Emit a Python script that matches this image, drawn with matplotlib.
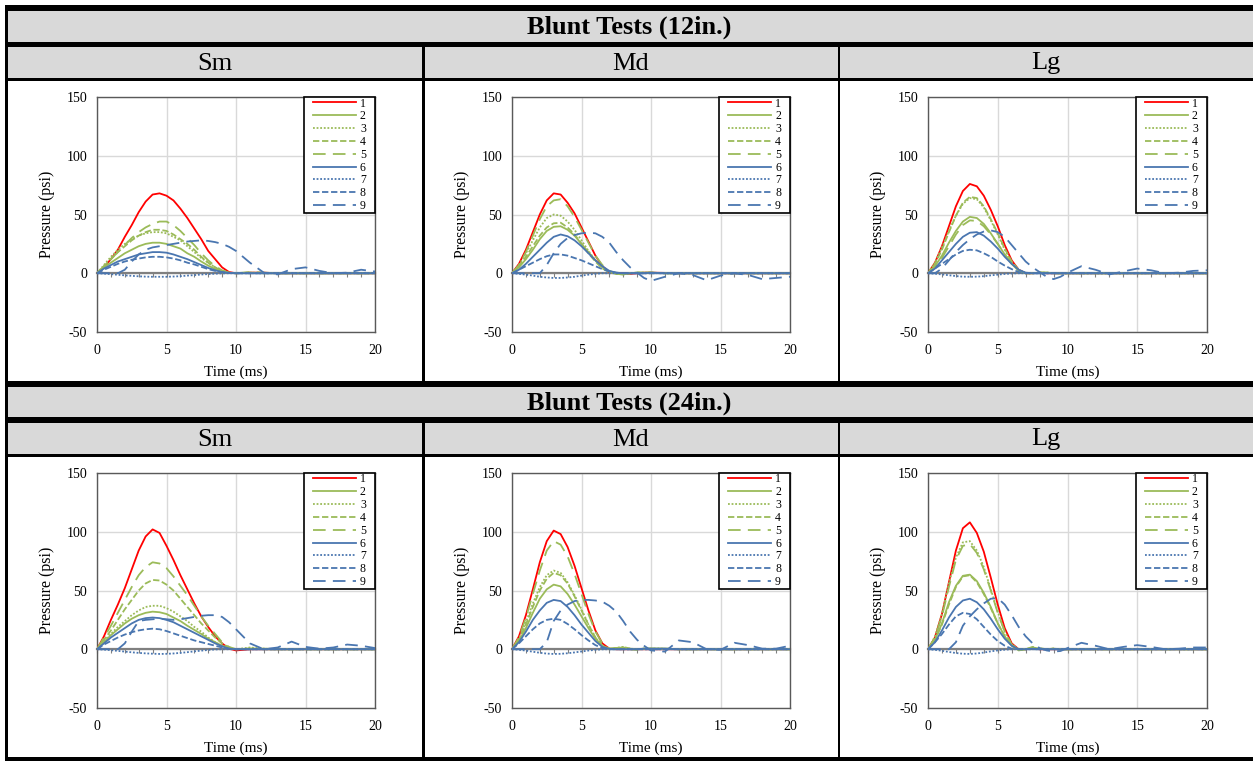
import matplotlib
matplotlib.use('Agg')
import matplotlib.pyplot as plt
from matplotlib.patches import Rectangle
from matplotlib.ticker import MultipleLocator

plt.rcParams['font.family'] = ['Liberation Serif', 'DejaVu Serif']
plt.rcParams['axes.unicode_minus'] = False

# ---------------- data ----------------
ROW_TITLES = ['Blunt Tests (12in.)', 'Blunt Tests (24in.)']
COL_TITLES = ['Sm', 'Md', 'Lg']
SERIES_LABELS = ['1', '2', '3', '4', '5', '6', '7', '8', '9']
X_LABEL = 'Time (ms)'
Y_LABEL = 'Pressure (psi)'

TIME = [0, 0.5, 1, 1.5, 2, 2.5, 3, 3.5, 4, 4.5, 5, 5.5, 6, 6.5, 7, 7.5, 8, 8.5, 9, 9.5, 10,
        11, 12, 13, 14, 15, 16, 17, 18, 19, 20]

SM_12 = [
    [0, 5, 12, 20, 31, 41, 52, 61, 67, 68, 66, 62, 55, 47, 38, 29, 19, 12, 5, 1, 0, 0.5, 0.5, 0, 0, 0, 0, 0, 0, 0, 0],
    [0, 5, 9, 13, 17, 20, 23, 25, 26, 26, 25, 23, 21, 17, 14, 10, 6.5, 3.6, 1.3, 0.3, 0, 0.3, 0, 0, 0, 0, 0, 0, 0, 0, 0],
    [0, 7, 14, 20, 25, 29, 32, 34, 35, 35, 34, 31, 28, 23, 18, 13, 9, 5, 2, 0.5, 0, 0.5, 0.3, 0, 0, 0, 0, 0, 0, 0, 0],
    [0, 6, 12, 18, 23, 28, 32, 35, 37, 37, 36, 33, 29, 25, 20, 14, 9, 5, 2, 0.5, 0, 0.5, 0.3, 0, 0, 0, 0, 0, 0, 0, 0],
    [0, 6, 12, 18, 24, 30, 35, 39, 42, 44, 44, 41, 36, 30, 24, 17, 11, 6, 2.5, 0.5, 0, 1, 0.5, 0, 0, 0, 0, 0, 0, 0, 0],
    [0, 4, 7, 10, 12, 14, 16, 17, 18, 18, 17.5, 16, 14, 12, 9.5, 7, 4.5, 2.5, 1, 0.3, 0, 0, 0, 0, 0, 0, 0, 0, 0, 0, 0],
    [0, -0.3, -0.8, -1.3, -1.8, -2.2, -2.6, -2.9, -3, -3, -3, -2.8, -2.5, -2, -1.6, -1.1, -0.7, -0.4, -0.1, 0, 0, 0, 0, 0, 0, 0, 0, 0, 0, 0, 0],
    [0, 3, 5.5, 8, 10, 11.5, 12.5, 13.5, 14, 14, 13.5, 12.5, 11, 9, 7.5, 5.5, 3.5, 2, 1, 0.3, 0, 0, 0, 0, 0, 0, 0, 0, 0, 0, 0],
    [0, 0, 0, 0, 3, 10, 16, 20, 22, 23, 24, 25, 26, 27, 27.5, 28, 27.5, 26.5, 25, 22.5, 19, 9, 0.5, -1, 3.5, 5, 2, 0, 0.5, 3, 1.5],
]

MD_12 = [
    [0, 8, 20, 35, 50, 62, 68, 67, 60, 51, 39, 27, 15, 6, 1, 0, 0, -0.5, 0, 0.5, 0.5, 0.3, 0, 0, 0, 0, 0, 0, 0, 0, 0],
    [0, 5, 12, 20, 29, 36, 39.5, 40, 37, 32, 25, 18, 11, 5, 1.5, -0.5, -1, 0, 0.5, 0.5, 0.5, 0, 0, 0, 0, 0, 0, 0, 0, 0, 0],
    [0, 7, 17, 28, 39, 47, 50, 49, 44, 37, 28, 19, 11, 5, 1, 0, -0.5, 0, 0.5, 0.5, 0.5, 0, 0, 0, 0, 0, 0, 0, 0, 0, 0],
    [0, 6, 14, 23, 32, 39, 42.5, 43, 39, 33, 25, 17, 10, 4, 1, -0.5, -1, 0, 0.5, 0.5, 0.5, 0, 0, 0, 0, 0, 0, 0, 0, 0, 0],
    [0, 7, 18, 32, 46, 57, 62, 63, 57, 48, 37, 26, 15, 7, 2, 0, -1, 0, 0.5, 0.5, 0.5, 0, 0, 0, 0, 0, 0, 0, 0, 0, 0],
    [0, 3, 8, 14, 20, 26, 31, 33, 31.5, 28, 23, 17, 11, 6, 2, 0.5, 0, 0, 0, 0, 0.5, 0, 0, 0, 0, 0, 0, 0, 0, 0, 0],
    [0, -0.5, -1.2, -2, -3, -3.6, -4, -4, -3.6, -3, -2, -1.2, -0.5, 0, 0, 0, 0, 0, 0, 0, 0, 0, 0, 0, 0, 0, 0, 0, 0, 0, 0],
    [0, 3, 6, 9, 12, 14.5, 16, 16, 15, 13, 11, 8.5, 6, 3.5, 1.5, 0.5, 0, 0, 0, 0, 0, 0, 0, 0, 0, 0, 0, 0, 0, 0, 0],
    [0, 0, 0, 0, 0, 7, 17, 25, 30, 32.5, 34, 34.5, 34, 31, 26, 18, 11, 5, 0.5, -4, -6.5, -3, 0, -1.5, -6, -2, 0, -1.5, -5, -4, -3],
]

LG_12 = [
    [0, 9, 23, 40, 57, 70, 76, 74, 66, 54, 40, 24, 11, 3, 0, 0, 0.5, 0, 0, 0, 0, 0, 0, 0, 0, 0, 0, 0, 0, 0, 0],
    [0, 6, 15, 26, 36, 44, 48, 47, 42, 34, 25, 16, 8, 2, 0, 0, 0.5, 0.5, 0, 0, 0, 0, 0, 0, 0, 0, 0, 0, 0, 0, 0],
    [0, 9, 22, 36, 49, 59, 64, 63, 56, 45, 33, 20, 9, 2.5, 0, 0, 0.5, 0.5, 0, 0, 0, 0, 0, 0, 0, 0, 0, 0, 0, 0, 0],
    [0, 8, 20, 35, 49, 60, 65, 64, 57, 46, 34, 21, 10, 3, 0, 0, 0.5, 0.5, 0, 0, 0, 0, 0, 0, 0, 0, 0, 0, 0, 0, 0],
    [0, 5, 13, 23, 33, 41, 45, 44.5, 40, 33, 25, 16, 8, 2.5, 0, 0, 0.5, 0.5, 0, 0, 0, 0, 0, 0, 0, 0, 0, 0, 0, 0, 0],
    [0, 4, 11, 18, 25, 31, 34.5, 35, 32, 27, 21, 14, 8, 3, 0.5, 0, 0, 0, 0, 0, 0, 0, 0, 0, 0, 0, 0, 0, 0, 0, 0],
    [0, -0.4, -1, -1.7, -2.4, -2.9, -3, -2.9, -2.5, -1.8, -1.2, -0.6, -0.2, 0, 0, 0, 0, 0, 0, 0, 0, 0, 0, 0, 0, 0, 0, 0, 0, 0, 0],
    [0, 4, 8, 12, 16, 19, 20, 19.5, 17, 14, 10, 6.5, 3.5, 1, 0, 0, 0, 0, 0, 0, 0, 0, 0, 0, 0, 0, 0, 0, 0, 0, 0],
    [0, 0, 4, 11, 18, 24, 29, 33, 35.5, 36.5, 35, 31, 24, 17, 10, 5, 1, -3, -5, -3, 0.5, 6, 3, -1, 1.5, 4, 2.5, 0, 0.5, 2, 2.5],
]

SM_24 = [
    [0, 11, 25, 38, 52, 68, 84, 96, 102, 99, 88, 76, 63, 51, 39, 28, 19, 11, 5, 0.5, -1, 0, 0, 0, 0, 0, 0, 0, 0, 0, 0],
    [0, 6, 12, 17, 22, 26, 29, 31, 32, 31.5, 30, 27, 24, 20, 16.5, 13, 9, 6, 3, 1, 0, 0.5, 0.5, 0, 0, 0, 0, 0, 0, 0, 0],
    [0, 7, 13, 19, 24, 29, 33, 36, 37, 37, 35, 32, 28, 24, 19, 15, 10, 6, 3, 1, 0, 1.5, 0.5, 0, 0, 0, 0, 0, 0, 0, 0],
    [0, 8, 16, 25, 34, 42, 50, 56, 59, 58.5, 55, 50, 43, 36, 29, 22, 16, 10, 5, 1.5, 0, 0.5, 0, 0, 0, 0, 0, 0, 0, 0, 0],
    [0, 10, 20, 31, 42, 53, 63, 70, 74, 73, 69, 62, 54, 46, 37, 28, 20, 13, 6, 2, 0, 0.5, 0, 0, 0, 0, 0, 0, 0, 0, 0],
    [0, 5, 10, 14, 18, 22, 25, 26.5, 27, 26.5, 25, 23, 20, 17, 14, 11, 8, 5, 2.5, 0.5, 0, 0, 0, 0, 0, 0, 0, 0, 0, 0, 0],
    [0, -0.3, -0.8, -1.4, -2, -2.6, -3.1, -3.5, -3.8, -4, -3.9, -3.6, -3.1, -2.5, -1.8, -1.2, -0.6, -0.2, 0, 0, 0, 0, 0, 0, 0, 0, 0, 0, 0, 0, 0],
    [0, 4, 7, 10, 12.5, 14.5, 16, 17, 17.5, 17, 15.5, 13.5, 11.5, 9.5, 7.5, 6, 4.5, 3, 1.5, 0.5, 0, 0, 0, 0, 0, 0, 0, 0, 0, 0, 0],
    [0, 0, 0, 0, 5, 15, 24, 25, 25.5, 26, 25.5, 25, 25.5, 26.5, 27.5, 28.5, 29, 29, 27.5, 23, 17, 5, 0, 1.5, 6.5, 2, 0.5, 1.5, 4, 3, 1],
]

MD_24 = [
    [0, 11, 29, 51, 74, 92, 101, 98, 87, 71, 52, 33, 16, 5, 0.5, 0, 0, 0, 0, 0, 0, 0, 0, 0, 0, 0, 0, 0, 0, 0, 0],
    [0, 7, 18, 31, 43, 51, 55, 53.5, 47, 38, 28, 18, 9, 3, 0.5, 1, 1.5, 0, 0, 0.5, 0.5, 0.5, 0, 0, 0, 0, 0, 0, 0, 0, 0],
    [0, 9, 23, 39, 53, 63, 67, 65, 57, 46, 34, 21, 10, 3, 0, 1, 2, 0.5, 0, 0.5, 0.5, 0.5, 0, 0, 0, 0, 0, 0, 0, 0, 0],
    [0, 8, 21, 36, 50, 60, 65, 63, 56, 45, 33, 21, 10, 3, 0, 1, 1.5, 0, -0.5, 0.5, 0.5, 0.5, 0, 0, 0, 0, 0, 0, 0, 0, 0],
    [0, 10, 27, 47, 67, 84, 92, 89, 79, 64, 47, 30, 15, 5, 0.5, 1, 2, 0.5, 0, 0.5, 0.5, 0.5, 0, 0, 0, 0, 0, 0, 0, 0, 0],
    [0, 6, 15, 25, 33, 39.5, 42, 41, 36, 29, 21, 14, 7, 2, 0.3, 0, 0, 0, 0, 0.5, 0.5, 0.5, 0, 0, 0, 0, 0, 0, 0, 0, 0],
    [0, -0.4, -1.2, -2.1, -3, -3.7, -4, -3.9, -3.4, -2.7, -1.9, -1.1, -0.5, -0.1, 0, 0, 0, 0, 0, 0, 0, 0, 0, 0, 0, 0, 0, 0, 0, 0, 0],
    [0, 5, 11, 17, 22, 25, 26, 25, 21.5, 17, 12, 7.5, 3.5, 1, 0, 0, 0, 0, 0, 0, 0, 0, 0, 0, 0, 0, 0, 0, 0, 0, 0],
    [0, 0, 0, 0, 0, 6, 24, 33, 38, 41, 42, 42, 41.5, 40.5, 37, 32, 24, 15, 8, 3, -1, -2, 7.5, 6, 0, -0.5, 5.5, 3.5, 0.5, 0.5, 3],
]

LG_24 = [
    [0, 10, 30, 57, 84, 103, 108, 99, 83, 61, 38, 18, 5, 0, 0, 0.5, 0, 0, 0, 0, 0, 0, 0, 0, 0, 0, 0, 0, 0, 0, 0],
    [0, 8, 22, 40, 54, 62.5, 63.5, 58, 48, 36, 22, 11, 3, -1, 0, 1.5, 0.5, 0, 0.5, 0, 0, 0, 0, 0, 0, 0, 0, 0, 0, 0, 0],
    [0, 11, 30, 56, 78, 91, 92, 84, 70, 51, 32, 15, 4, 0, 0, 1, 0.5, 0, 0.5, 0, 0, 0, 0, 0, 0, 0, 0, 0, 0, 0, 0],
    [0, 8, 21, 38, 53, 62, 63, 57, 47, 35, 22, 11, 3, 0, 0, 1, 0.5, 0, 0.5, 0, 0, 0, 0, 0, 0, 0, 0, 0, 0, 0, 0],
    [0, 10, 28, 53, 76, 88, 89.5, 82, 68, 50, 31, 15, 4, -0.5, 0, 2, 1, 0, 0.5, 0, 0, 0, 0, 0, 0, 0, 0, 0, 0, 0, 0],
    [0, 6, 16, 27, 36, 41.5, 43, 40, 34, 26, 17, 9, 3, 0, 0, 0.5, 0, 0, 0, 0, 0, 0, 0, 0, 0, 0, 0, 0, 0, 0, 0],
    [0, -0.5, -1.3, -2.3, -3.2, -3.8, -4, -3.6, -2.8, -1.8, -1, -0.4, 0, 0, 0, 0, 0, 0, 0, 0, 0, 0, 0, 0, 0, 0, 0, 0, 0, 0, 0],
    [0, 6, 13, 21, 28, 31, 30, 25.5, 19, 12.5, 7, 3, 0.5, 0, 0, 0, 0, 0, 0, 0, 0, 0, 0, 0, 0, 0, 0, 0, 0, 0, 0],
    [0, 0, 0, 0, 6, 20, 28, 34, 39, 43, 43.5, 38, 29, 19, 11, 5, 1, -1, -2, -1.5, 1, 5.5, 3, 0, 2, 3.5, 2, 0, 0.5, 1.5, 1.5],
]

PANELS = [[SM_12, MD_12, LG_12], [SM_24, MD_24, LG_24]]

# ---------------- styles ----------------
RED, GREEN, BLUE = '#FF0000', '#9BBB59', '#4A76B0'
COLORS = [RED, GREEN, GREEN, GREEN, GREEN, BLUE, BLUE, BLUE, BLUE]
STYLES = ['-', '-', (0, (1, 1)), (0, (3.5, 1.5)), (0, (7, 4)),
          '-', (0, (1, 1)), (0, (3.5, 1.5)), (0, (7, 4))]
HEADER_GRAY = '#D9D9D9'

W, H = 1253, 761
fig = plt.figure(figsize=(W / 100, H / 100), dpi=100)


def fx(x):
    return x / W


def fy(y):
    return 1 - y / H


def block(x0, y0, x1, y1, color):
    fig.add_artist(Rectangle((fx(x0), fy(y1)), (x1 - x0) / W, (y1 - y0) / H,
                             transform=fig.transFigure, facecolor=color,
                             edgecolor='none', zorder=0))


# table frame (pixel layout)
TABLE_L, TABLE_R = 5, W
COL_DIV = [(422, 424.5), (838, 840.5)]
COL_CENTERS = [214.5, 631, 1046]
ROW_BANDS = [  # (title top, title bottom, sub top, sub bottom, chart top, chart bottom)
    (11, 42, 47, 78, 81, 381),
    (387, 417, 423, 454, 457, 757),
]
# black bands
block(TABLE_L, 5, TABLE_R, 11, 'black')
block(TABLE_L, 42, TABLE_R, 47, 'black')
block(TABLE_L, 78, TABLE_R, 81, 'black')
block(TABLE_L, 381, TABLE_R, 387, 'black')
block(TABLE_L, 417, TABLE_R, 423, 'black')
block(TABLE_L, 454, TABLE_R, 457, 'black')
block(TABLE_L, 757, TABLE_R, 761, 'black')
block(TABLE_L, 5, 7.5, 761, 'black')

for r, (t0, t1, s0, s1, c0, c1) in enumerate(ROW_BANDS):
    block(7.5, t0, TABLE_R, t1, HEADER_GRAY)
    block(7.5, s0, TABLE_R, s1, HEADER_GRAY)
    for (d0, d1) in COL_DIV:
        block(d0, s0, d1, c1, 'black')
    fig.text(fx(629), fy((t0 + t1) / 2 + 1), ROW_TITLES[r], ha='center', va='center',
             fontsize=19, fontweight='bold')
    for c, xc in enumerate(COL_CENTERS):
        fig.text(fx(xc), fy((s0 + s1) / 2 + 1), COL_TITLES[c], ha='center', va='center',
                 fontsize=19)

AX_X = [(97, 375), (512, 790), (928, 1207)]
AX_Y = [(97, 332), (473, 708)]
LEG_W, LEG_H = 71, 116   # legend box size in pixels
LEG_TEXT_RIGHT = 9       # gap between label and legend frame, pixels

for r in range(2):
    for c in range(3):
        x0, x1 = AX_X[c]
        y0, y1 = AX_Y[r]
        aw, ah = x1 - x0, y1 - y0
        ax = fig.add_axes([fx(x0), fy(y1), aw / W, ah / H])
        data = PANELS[r][c]
        for i, series in enumerate(data):
            ax.plot(TIME, series, color=COLORS[i], linestyle=STYLES[i], lw=1.3,
                    label=SERIES_LABELS[i], zorder=3 + i * 0.01)
        ax.set_xlim(0, 20)
        ax.set_ylim(-50, 150)
        ax.xaxis.set_major_locator(MultipleLocator(5))
        ax.yaxis.set_major_locator(MultipleLocator(50))
        ax.grid(True, color='#D9D9D9', lw=1.0)
        ax.set_axisbelow(True)
        ax.tick_params(axis='y', length=0, labelsize=10, pad=7)
        ax.tick_params(axis='x', length=0, labelsize=10, pad=8.5)
        for s in ax.spines.values():
            s.set_color('#595959')
            s.set_linewidth(1.0)
        ax.set_xlabel(X_LABEL, fontsize=11, labelpad=6.5)
        ax.set_ylabel(Y_LABEL, fontsize=11.5, labelpad=8)

        # horizontal axis line crossing at zero, with minor ticks
        sec = ax.secondary_xaxis(0.25)
        sec.xaxis.set_major_locator(MultipleLocator(1))
        sec.tick_params(direction='out', length=3, width=0.8, color='#808080',
                        labelbottom=False)
        sec.spines['bottom'].set_color('#808080')
        sec.spines['bottom'].set_linewidth(1.6)
        sec.set_zorder(1.5)

        # legend frame drawn as a box in the upper right corner of the plot area
        box = Rectangle((1 - LEG_W / aw, 1 - LEG_H / ah), LEG_W / aw, LEG_H / ah,
                        transform=ax.transAxes, facecolor='white', edgecolor='black',
                        lw=1.2, zorder=9, clip_on=False)
        ax.add_patch(box)
        leg = ax.legend(loc='upper right',
                        bbox_to_anchor=(1 - LEG_TEXT_RIGHT / aw, 1 - 0.5 / ah),
                        fontsize=8.5, handlelength=3.6, handletextpad=0.35,
                        labelspacing=0.07, borderpad=0, borderaxespad=0,
                        frameon=False)
        leg.set_zorder(10)

fig.savefig('out.png', dpi=100)
